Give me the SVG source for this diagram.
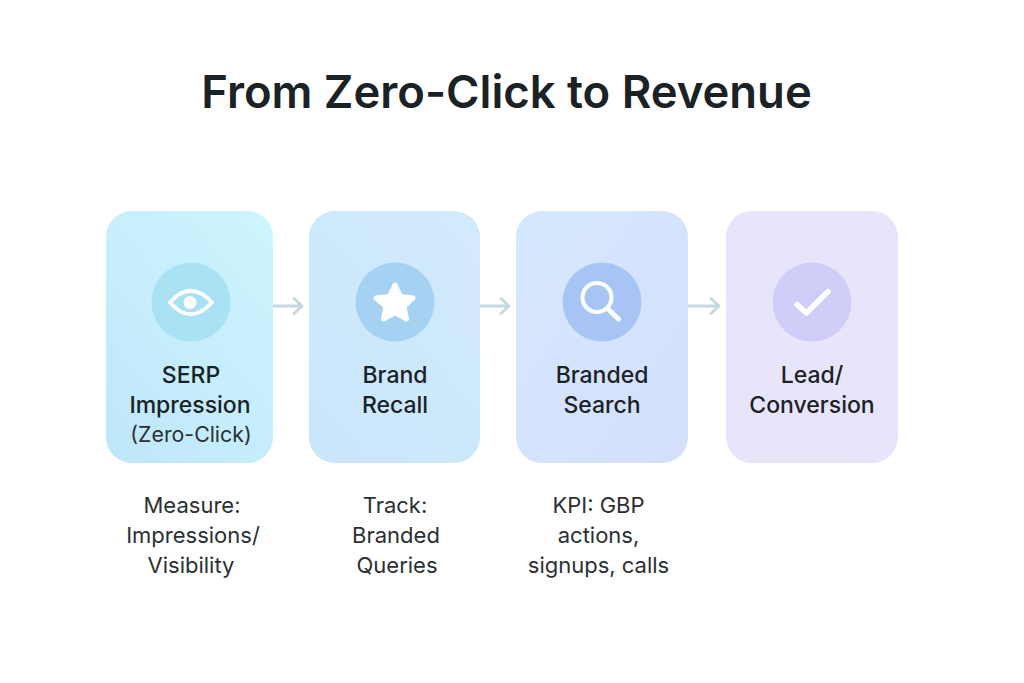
<svg xmlns="http://www.w3.org/2000/svg" width="1024" height="683" viewBox="0 0 1024 683">
<style>
text{font-family:Inter,"Liberation Sans",sans-serif;text-anchor:middle;fill:#1b2226}
.t{font-size:45.4px;font-weight:600}
.l{font-size:23px;font-weight:500}
.s{font-size:21.300px;font-weight:400;fill:#2b3033}
.m{font-size:22px;font-weight:400;fill:#2b3033}
.a{fill:none;stroke:#c6d9e2;stroke-width:3;stroke-linecap:round;stroke-linejoin:round}
.i{fill:none;stroke:#fff;stroke-linecap:round;stroke-linejoin:round}
</style>
<defs>
<linearGradient id="g1" x1="0.9" y1="0" x2="0.1" y2="1"><stop offset="0" stop-color="#cdf5fe"/><stop offset="1" stop-color="#bfe7fa"/></linearGradient>
<linearGradient id="g2" x1="0.9" y1="0" x2="0.1" y2="1"><stop offset="0" stop-color="#d2ebfc"/><stop offset="1" stop-color="#c9e6fb"/></linearGradient>
<linearGradient id="g3" x1="0" y1="0" x2="1" y2="1"><stop offset="0" stop-color="#d5e8fe"/><stop offset="1" stop-color="#d4dffa"/></linearGradient>
<linearGradient id="g4" x1="0" y1="0" x2="1" y2="1"><stop offset="0" stop-color="#e7e5fb"/><stop offset="1" stop-color="#e8e5fb"/></linearGradient>
</defs>
<rect width="1024" height="683" fill="#fff"/>
<text class="t" x="506.500" y="108">From Zero-Click to Revenue</text>
<g id="connectors">
<path class="a" d="M273 306H302M294 298.500L302 306L294 313.500"/>
<path class="a" d="M481 306H509M501 298.500L509 306L501 313.500"/>
<path class="a" d="M688 306H719M711 298.500L719 306L711 313.500"/>
</g>
<g id="node-serp">
<rect x="106" y="211" width="167" height="252" rx="26" fill="url(#g1)"/>
<circle cx="191" cy="302" r="39.500" fill="#a9e2f5"/>
<path class="i" stroke-width="3.800" d="M170 302.500Q190.500 279 212 302.500Q190.500 326 170 302.500Z"/>
<circle cx="190" cy="302.500" r="6.500" fill="#fff"/>
<text class="l" x="191" y="383">SERP</text>
<text class="l" x="190" y="413">Impression</text>
<text class="s" x="191" y="442">(Zero-Click)</text>
</g>
<g id="node-recall">
<rect x="309" y="211" width="171" height="252" rx="26" fill="url(#g2)"/>
<circle cx="395" cy="302" r="39.500" fill="#a5d2f3"/>
<path fill="#fff" stroke="#fff" stroke-width="5" stroke-linejoin="round" d="M395 285L400.500 296.500L413 298L404 306.500L406.500 319L395 312.500L383.500 319L386 306.500L376 298L389.500 296.500Z"/>
<text class="l" x="395" y="383">Brand</text>
<text class="l" x="395" y="413">Recall</text>
</g>
<g id="node-search">
<rect x="516" y="211" width="172" height="252" rx="26" fill="url(#g3)"/>
<circle cx="602" cy="302" r="39.500" fill="#a6c5f5"/>
<circle cx="597" cy="297.500" r="14.500" class="i" stroke-width="4"/>
<path class="i" stroke-width="5" d="M609 310L618.500 319"/>
<text class="l" x="602" y="383">Branded</text>
<text class="l" x="602" y="413">Search</text>
</g>
<g id="node-lead">
<rect x="726" y="211" width="172" height="252" rx="26" fill="url(#g4)"/>
<circle cx="812" cy="302" r="39.500" fill="#d0cdf9"/>
<path class="i" stroke-width="5.500" d="M797 304.500L806.500 313L828 291.500"/>
<text class="l" x="812" y="383">Lead/</text>
<text class="l" x="812" y="413">Conversion</text>
</g>
<g id="note-1">
<text class="m" x="192" y="513">Measure:</text>
<text class="m" x="193" y="543">Impressions/</text>
<text class="m" x="191" y="573">Visibility</text>
</g>
<g id="note-2">
<text class="m" x="395" y="513">Track:</text>
<text class="m" x="396" y="543">Branded</text>
<text class="m" x="397" y="573">Queries</text>
</g>
<g id="note-3">
<text class="m" x="598.500" y="513">KPI: GBP</text>
<text class="m" x="598.500" y="543">actions,</text>
<text class="m" x="598.500" y="573">signups, calls</text>
</g>
</svg>
